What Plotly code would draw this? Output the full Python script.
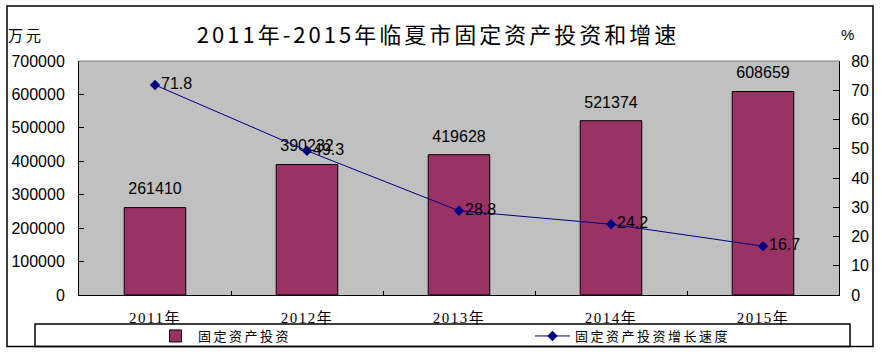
import plotly.graph_objects as go

years = ["2011年", "2012年", "2013年", "2014年", "2015年"]
investment = [261410, 390232, 419628, 521374, 608659]
growth = [71.8, 49.3, 28.8, 24.2, 16.7]
left_ticks = [0, 100000, 200000, 300000, 400000, 500000, 600000, 700000]
right_ticks = [0, 10, 20, 30, 40, 50, 60, 70, 80]

W, H = 882, 354
L, R, T, B = 79, 43, 61, 59
PW, PH = W - L - R, H - T - B

def px(x):
    return (x - L) / PW

def py(y):
    return (H - B - y) / PH

def spaced(s, sp):
    return f'<span style="letter-spacing:{sp}px">{s}</span>'

fig = go.Figure()
fig.add_trace(go.Bar(
    x=years, y=investment, name=spaced("固定资产投资", 2.5),
    marker=dict(color="#993366", line=dict(color="black", width=1)),
    width=0.405, legend="legend",
))
# bar value labels (invisible markers at bar tops so the text sits a little higher)
fig.add_trace(go.Scatter(
    x=years, y=investment, mode="markers+text", showlegend=False, hoverinfo="skip",
    marker=dict(size=13, opacity=0),
    text=[str(v) for v in investment], textposition="top center",
    textfont=dict(family="Arial", size=16, color="black"),
    cliponaxis=False,
))
fig.add_trace(go.Scatter(
    x=years, y=growth, name=spaced("固定资产投资增长速度", 2.5), yaxis="y2",
    mode="lines+markers+text",
    line=dict(color="#000080", width=1),
    marker=dict(symbol="diamond", size=8, color="#000080"),
    text=[f"{v:.1f}" for v in growth], textposition="middle right",
    textfont=dict(family="Arial", size=16, color="black"),
    cliponaxis=False, legend="legend2",
))

legend_common = dict(orientation="h", xanchor="left", y=py(336), yanchor="middle",
                     font=dict(family="Noto Sans CJK SC", size=13, color="black"),
                     itemwidth=35, bgcolor="rgba(0,0,0,0)")

fig.update_layout(
    width=W, height=H,
    margin=dict(l=L, r=R, t=T, b=B, autoexpand=False),
    paper_bgcolor="white", plot_bgcolor="#C0C0C0",
    showlegend=True,
    title=dict(text=spaced("2011年-2015年临夏市固定资产投资和增速", 3),
               x=438 / W, xanchor="center", y=1 - 35 / H, yanchor="middle",
               font=dict(family="Noto Sans CJK SC", size=22, color="black")),
    xaxis=dict(type="category", showline=True, linecolor="black", linewidth=1,
               ticks="inside", tickson="boundaries", ticklen=4, tickcolor="black",
               tickfont=dict(family="Liberation Serif, Noto Sans CJK SC", size=15, color="black"),
               tickvals=years, ticktext=[spaced(y, 1.5) for y in years],
               showgrid=False, zeroline=False, ticklabelstandoff=9),
    yaxis=dict(range=[0, 700000], tickvals=left_ticks, ticktext=[str(v) for v in left_ticks],
               showline=True, linecolor="black", linewidth=1,
               ticks="inside", ticklen=5, tickcolor="black",
               tickfont=dict(family="Arial", size=16, color="black"),
               showgrid=False, zeroline=False, ticklabelstandoff=10),
    yaxis2=dict(range=[0, 80], tickvals=right_ticks, overlaying="y", side="right",
                showline=True, linecolor="black", linewidth=1,
                ticks="inside", ticklen=6, tickcolor="black",
                tickfont=dict(family="Arial", size=16, color="black"),
                showgrid=False, zeroline=False, ticklabelstandoff=8),
    legend=dict(x=px(153), **legend_common),
    legend2=dict(x=px(530), **legend_common),
)

shapes = [
    dict(type="rect", xref="paper", yref="paper", x0=px(7), x1=px(873), y0=py(346.5), y1=py(6),
         line=dict(color="black", width=1.5), layer="below"),
    dict(type="rect", xref="paper", yref="paper", x0=px(35), x1=px(850), y0=py(346.5), y1=py(324),
         line=dict(color="black", width=1.5), layer="below"),
    dict(type="line", xref="paper", yref="paper", x0=0, x1=1, y0=1, y1=1,
         line=dict(color="#808080", width=1)),
]
fig.update_layout(shapes=shapes)

fig.add_annotation(text=spaced("万元", 3), xref="paper", yref="paper", x=px(26), y=py(35),
                   xanchor="center", yanchor="middle", showarrow=False,
                   font=dict(family="Noto Sans CJK SC", size=15, color="black"))
fig.add_annotation(text="%", xref="paper", yref="paper", x=px(847), y=py(35),
                   xanchor="center", yanchor="middle", showarrow=False,
                   font=dict(family="Arial", size=15, color="black"))

fig.write_html("out.html")
